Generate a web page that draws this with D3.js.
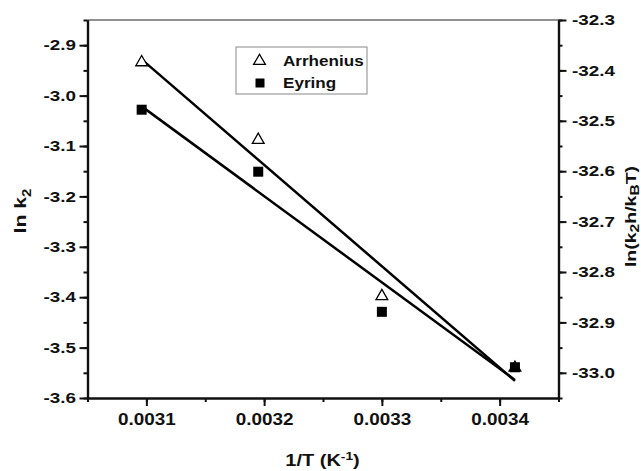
<!DOCTYPE html>
<html><head><meta charset="utf-8">
<script src="https://cdn.jsdelivr.net/npm/d3@7"></script>
<style>
body{margin:0;background:#fff;}
svg{display:block;font-family:"Liberation Sans",Arial,sans-serif;font-weight:bold;}
</style></head>
<body>
<svg id="c" width="641" height="471"></svg>
<script>
// Data
const invT = [0.003096, 0.003195, 0.003300, 0.003413];
const arrhenius = [-2.934, -3.088, -3.398, -3.540];   // ln k2 (left axis)
const eyring = [-32.478, -32.601, -32.879, -32.989];  // ln(k2h/kBT) (right axis)
const xTicks = [0.0031, 0.0032, 0.0033, 0.0034];
const yLeftTicks = [-3.6, -3.5, -3.4, -3.3, -3.2, -3.1, -3.0, -2.9];
const yRightTicks = [-33.0, -32.9, -32.8, -32.7, -32.6, -32.5, -32.4, -32.3];
const seriesNames = ["Arrhenius", "Eyring"];

const svg = d3.select("#c");
const L = 87.5, R = 558.5, T = 20, B = 398;
const x = d3.scaleLinear().domain([0.00305, 0.00345]).range([L, R]);
const yL = d3.scaleLinear().domain([-3.6, -2.85]).range([B, T]);
const yR = d3.scaleLinear().domain([-33.05, -32.30]).range([B, T]);

function fit(xs, ys) {
  const mx = d3.mean(xs), my = d3.mean(ys);
  let sxy = 0, sxx = 0;
  xs.forEach((v, i) => { sxy += (v - mx) * (ys[i] - my); sxx += (v - mx) * (v - mx); });
  const b = sxy / sxx;
  return v => my + b * (v - mx);
}

// top border
svg.append("line").attr("x1", L).attr("x2", R).attr("y1", T).attr("y2", T)
  .attr("stroke", "#222").attr("stroke-width", 1);

function styleAxis(g, size, s) {
  g.select(".domain").attr("stroke", "#111").attr("stroke-width", 2.2);
  g.selectAll(".tick line").attr("stroke", "#111").attr("stroke-width", 2);
  g.selectAll(".tick text").attr("fill", "#111").style("font-size", size + "px").style("font-weight", "bold")
    .style("font-family", "'Liberation Sans',Arial,sans-serif")
    .each(function () {
      const t = d3.select(this);
      const xx = +t.attr("x") || 0;
      t.attr("x", xx / s).attr("transform", `scale(${s},1)`);
    });
}

const minorX = d3.range(0.00305, 0.003451, 0.00005);
const minorL = d3.range(-3.6, -2.849, 0.05);
const minorR = d3.range(-33.05, -32.299, 0.05);

// x axis
svg.append("g").attr("transform", `translate(0,${B})`)
  .call(d3.axisBottom(x).tickValues(minorX).tickSize(4).tickFormat("").tickSizeOuter(0)).call(styleAxis, 16, 1);
const gx = svg.append("g").attr("transform", `translate(0,${B})`)
  .call(d3.axisBottom(x).tickValues(xTicks).tickSize(8).tickSizeOuter(0).tickPadding(5).tickFormat(d => d.toFixed(4)))
  .call(styleAxis, 16, 1.18);
gx.selectAll(".tick text").attr("dy", "0.88em");

// left axis
svg.append("g").attr("transform", `translate(${L},0)`)
  .call(d3.axisLeft(yL).tickValues(minorL).tickSize(4).tickFormat("").tickSizeOuter(0)).call(styleAxis, 14, 1);
svg.append("g").attr("transform", `translate(${L},0)`)
  .call(d3.axisLeft(yL).tickValues(yLeftTicks).tickSize(8).tickSizeOuter(0).tickPadding(3.5).tickFormat(d => d.toFixed(1)))
  .call(styleAxis, 14.5, 1.3);

// right axis
svg.append("g").attr("transform", `translate(${R},0)`)
  .call(d3.axisRight(yR).tickValues(minorR).tickSize(4).tickFormat("").tickSizeOuter(0)).call(styleAxis, 14, 1);
svg.append("g").attr("transform", `translate(${R},0)`)
  .call(d3.axisRight(yR).tickValues(yRightTicks).tickSize(8).tickSizeOuter(0).tickPadding(5.5).tickFormat(d => d.toFixed(1)))
  .call(styleAxis, 14.5, 1.3);

// fit lines
const xr = d3.extent(invT);
const fA = fit(invT, arrhenius), fE = fit(invT, eyring);
svg.append("line").attr("x1", x(xr[0])).attr("y1", yL(fA(xr[0]))).attr("x2", x(xr[1])).attr("y2", yL(fA(xr[1])))
  .attr("stroke", "#000").attr("stroke-width", 2.5);
svg.append("line").attr("x1", x(xr[0])).attr("y1", yR(fE(xr[0]))).attr("x2", x(xr[1])).attr("y2", yR(fE(xr[1])))
  .attr("stroke", "#000").attr("stroke-width", 2.5);

const tri = d3.symbol().type(d3.symbolTriangle).size(60);
const sq = d3.symbol().type(d3.symbolSquare).size(100);

// triangles
svg.selectAll(".tri").data(invT).join("path").attr("class", "tri")
  .attr("d", tri).attr("transform", (d, i) => `translate(${x(d)},${yL(arrhenius[i])})`)
  .attr("fill", "#fff").attr("stroke", "#000").attr("stroke-width", 1.3);
// squares
svg.selectAll(".sq").data(invT).join("path").attr("class", "sq")
  .attr("d", sq).attr("transform", (d, i) => `translate(${x(d)},${yR(eyring[i])})`)
  .attr("fill", "#000");

// legend
const lg = svg.append("g");
lg.append("rect").attr("x", 236).attr("y", 47).attr("width", 131).attr("height", 47)
  .attr("fill", "#fff").attr("stroke", "#888").attr("stroke-width", 1);
lg.append("path").attr("d", tri).attr("transform", "translate(259.5,61)")
  .attr("fill", "#fff").attr("stroke", "#000").attr("stroke-width", 1.3);
lg.append("path").attr("d", d3.symbol().type(d3.symbolSquare).size(81)).attr("transform", "translate(260,83)").attr("fill", "#000");
lg.append("text").attr("transform", "translate(283,66) scale(1.22,1)").style("font-size", "14px").attr("fill", "#111").text(seriesNames[0]);
lg.append("text").attr("transform", "translate(283,87.5) scale(1.22,1)").style("font-size", "14px").attr("fill", "#111").text(seriesNames[1]);

// axis titles
const xt = svg.append("text").attr("transform", "translate(322.5,466) scale(1.25,1)").attr("text-anchor", "middle")
  .style("font-size", "16px").attr("fill", "#111");
xt.append("tspan").text("1/T (K");
xt.append("tspan").attr("dy", -6).style("font-size", "11px").text("-1");
xt.append("tspan").attr("dy", 6).text(")");

const yt = svg.append("text").attr("transform", "translate(26,211) rotate(-90) scale(1.25,1)").attr("text-anchor", "middle")
  .style("font-size", "17px").attr("fill", "#111");
yt.append("tspan").text("ln k");
yt.append("tspan").attr("dy", 5).style("font-size", "12px").text("2");

const rt = svg.append("text").attr("transform", "translate(635.5,216.5) rotate(-90) scale(1.3,1)").attr("text-anchor", "middle")
  .style("font-size", "15px").attr("fill", "#111");
rt.append("tspan").text("ln(k");
rt.append("tspan").attr("dy", 3).style("font-size", "12px").text("2");
rt.append("tspan").attr("dy", -3).text("h/k");
rt.append("tspan").attr("dy", 3).style("font-size", "12px").text("B");
rt.append("tspan").attr("dy", -3).text("T)");
</script>
</body></html>
